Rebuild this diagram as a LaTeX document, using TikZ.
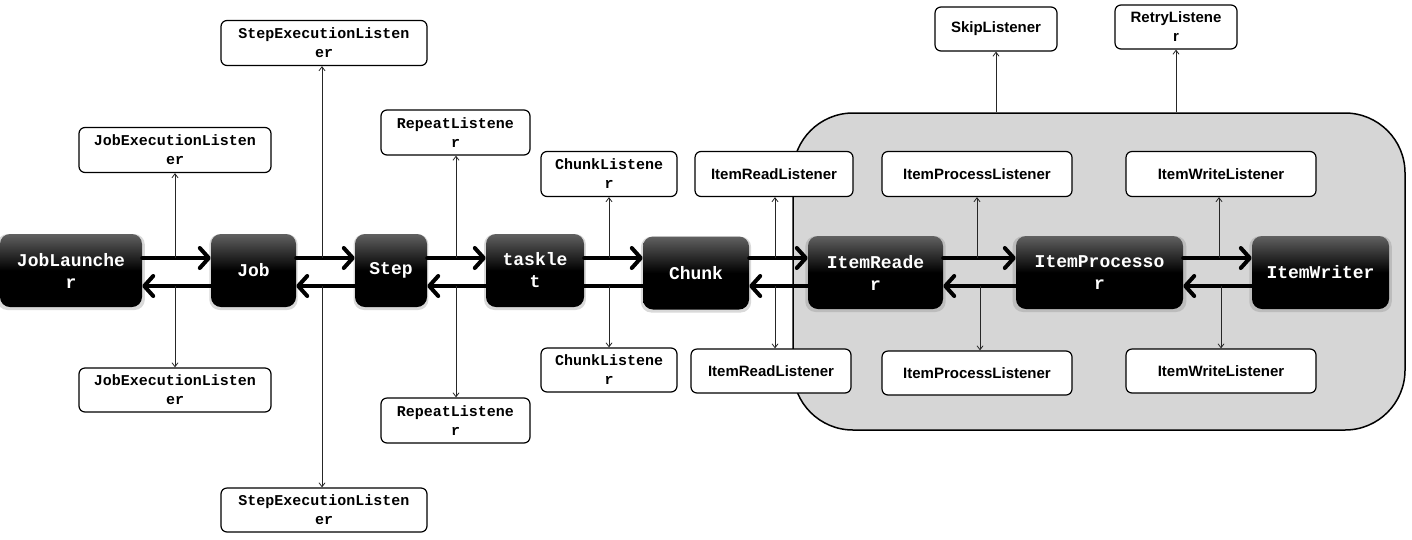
\documentclass[tikz,border=0pt]{standalone}
\usepackage{fontspec}
\setmainfont{Liberation Sans}
\setmonofont{Liberation Mono}
\usetikzlibrary{arrows.meta,shadows}
\definecolor{boxgray}{RGB}{214,214,214}
\begin{document}
\begin{tikzpicture}[x=1pt,y=-1pt,
  blk/.style={rounded corners=10pt, top color=black!62, bottom color=black, middle color=black,
    text=white, font=\ttfamily\bfseries\fontsize{18}{22}\selectfont, align=center,
    minimum height=73pt, inner sep=0pt,
    drop shadow={shadow xshift=0pt, shadow yshift=-1.5pt, opacity=0.3, shadow scale=1.04}},
  lis/.style={draw, line width=1.2pt, rounded corners=6pt, fill=white,
    font=\ttfamily\bfseries\fontsize{15}{19}\selectfont, align=center,
    minimum height=45pt, inner sep=0pt},
  lss/.style={lis, font=\rmfamily\bfseries\fontsize{15}{19}\selectfont},
  flow/.style={line width=4pt, line cap=round, -{Straight Barb[length=9pt,width=20pt,line cap=round,line join=round]}},
  plain/.style={line width=4pt},
  lst/.style={line width=0.8pt, black!85, -{Straight Barb[length=4pt,width=6pt]}},
  container/.style={draw, line width=1.5pt, fill=boxgray, rounded corners=60pt, inner sep=0pt}
]
\useasboundingbox (0,0) rectangle (1412,539);

% container
\node[container, minimum width=612pt, minimum height=317pt] (cont) at (1099,271.5) {};

% main flow boxes
\node[blk, minimum width=142pt] (jl) at (71,270.5) {JobLaunche\\r};
\node[blk, minimum width=85pt] (job) at (253.5,270.5) {Job};
\node[blk, minimum width=72pt] (step) at (391,270.5) {Step};
\node[blk, minimum width=98pt] (task) at (535,270.5) {taskle\\t};
\node[blk, minimum width=106pt] (chunk) at (696,273) {Chunk};
\node[blk, minimum width=135pt] (ir) at (875.5,272.5) {ItemReade\\r};
\node[blk, minimum width=167pt] (ip) at (1099.5,272.5) {ItemProcesso\\r};
\node[blk, minimum width=137pt] (iw) at (1320.5,272.5) {ItemWriter};

% listeners
\node[lis, minimum width=206pt] (selT) at (324,43) {StepExecutionListen\\er};
\node[lis, minimum width=192pt] (jelT) at (175,150) {JobExecutionListen\\er};
\node[lis, minimum width=149pt] (rlT) at (455.5,132.5) {RepeatListene\\r};
\node[lis, minimum width=136pt] (clT) at (609,174) {ChunkListene\\r};
\node[lss, minimum width=158pt] (irlT) at (774,174) {ItemReadListener};
\node[lss, minimum width=190pt] (iplT) at (977,174) {ItemProcessListener};
\node[lss, minimum width=190pt] (iwlT) at (1221,174) {ItemWriteListener};
\node[lss, minimum width=122pt, minimum height=44pt] (skip) at (996,29) {SkipListener};
\node[lss, minimum width=122pt, minimum height=44pt] (retry) at (1176,27) {RetryListene\\r};

\node[lis, minimum width=192pt, minimum height=44pt] (jelB) at (175,390) {JobExecutionListen\\er};
\node[lis, minimum width=206pt, minimum height=44pt] (selB) at (324,510) {StepExecutionListen\\er};
\node[lis, minimum width=149pt] (rlB) at (455.5,420.5) {RepeatListene\\r};
\node[lis, minimum width=136pt, minimum height=44pt] (clB) at (609,370) {ChunkListene\\r};
\node[lss, minimum width=160pt, minimum height=44pt] (irlB) at (771,371) {ItemReadListener};
\node[lss, minimum width=190pt, minimum height=44pt] (iplB) at (977,373) {ItemProcessListener};
\node[lss, minimum width=190pt, minimum height=44pt] (iwlB) at (1221,371) {ItemWriteListener};

% flow rows
\coordinate (F) at (0,258);
\coordinate (B) at (0,286);

\draw[flow] (jl.east |- F) -- (job.west |- F);
\draw[flow] (job.west |- B) -- (jl.east |- B);
\draw[flow] (job.east |- F) -- (step.west |- F);
\draw[flow] (step.west |- B) -- (job.east |- B);
\draw[flow] (step.east |- F) -- (task.west |- F);
\draw[flow] (task.west |- B) -- (step.east |- B);
\draw[flow] (task.east |- F) -- (chunk.west |- F);
\draw[plain] (chunk.west |- B) -- (task.east |- B);
\draw[flow] (chunk.east |- F) -- (ir.west |- F);
\draw[flow] (ir.west |- B) -- (chunk.east |- B);
\draw[flow] (ir.east |- F) -- (ip.west |- F);
\draw[flow] (ip.west |- B) -- (ir.east |- B);
\draw[flow] (ip.east |- F) -- (iw.west |- F);
\draw[flow] (iw.west |- B) -- (ip.east |- B);

% listener connectors (up from forward row, down from back row)
\coordinate (u1) at (175,258);  \coordinate (d1) at (175,286);
\coordinate (u2) at (322,258);  \coordinate (d2) at (322,286);
\coordinate (u3) at (456,258);  \coordinate (d3) at (456,286);
\coordinate (u4) at (609,258);  \coordinate (d4) at (609,286);
\coordinate (u5) at (775,258);  \coordinate (d5) at (775,286);
\coordinate (u6) at (977,258);  \coordinate (d6) at (980,286);
\coordinate (u7) at (1219,258); \coordinate (d7) at (1221,286);

\draw[lst] (u1) -- (u1 |- jelT.south);
\draw[lst] (d1) -- (d1 |- jelB.north);
\draw[lst] (u2) -- (u2 |- selT.south);
\draw[lst] (d2) -- (d2 |- selB.north);
\draw[lst] (u3) -- (u3 |- rlT.south);
\draw[lst] (d3) -- (d3 |- rlB.north);
\draw[lst] (u4) -- (u4 |- clT.south);
\draw[lst] (d4) -- (d4 |- clB.north);
\draw[lst] (u5) -- (u5 |- irlT.south);
\draw[lst] (d5) -- (d5 |- irlB.north);
\draw[lst] (u6) -- (u6 |- iplT.south);
\draw[lst] (d6) -- (d6 |- iplB.north);
\draw[lst] (u7) -- (u7 |- iwlT.south);
\draw[lst] (d7) -- (d7 |- iwlB.north);

\draw[lst] (skip.south |- cont.north) -- (skip.south);
\draw[lst] (retry.south |- cont.north) -- (retry.south);
\end{tikzpicture}
\end{document}
